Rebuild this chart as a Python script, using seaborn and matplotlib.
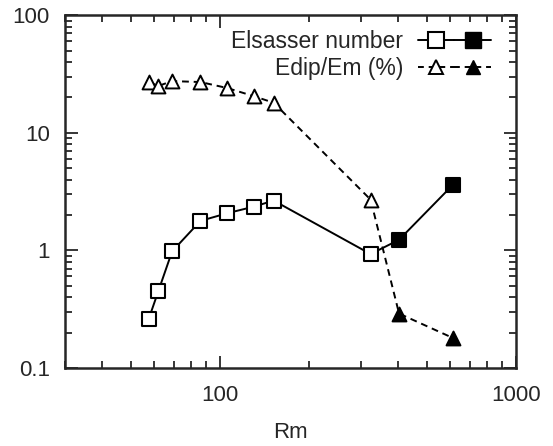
import matplotlib
matplotlib.use("Agg")
import matplotlib.pyplot as plt
import seaborn as sns
import numpy as np
from matplotlib.lines import Line2D
from matplotlib.legend_handler import HandlerTuple
from matplotlib.ticker import FuncFormatter, LogLocator

# Data
rm_open = [57.5, 62, 69, 86, 106, 130, 152, 323]
rm_filled = [403, 612]
elsasser_open = [0.26, 0.45, 0.98, 1.78, 2.07, 2.35, 2.65, 0.93]
elsasser_filled = [1.23, 3.6]
edip_open = [27, 25, 27.5, 27, 24, 20.5, 18, 2.7]
edip_filled = [0.29, 0.18]

sns.set_style("ticks")
plt.rcParams['font.family'] = ['Liberation Sans', 'DejaVu Sans']

fig, ax = plt.subplots(figsize=(5.53, 4.46), dpi=100)
fig.subplots_adjust(left=0.1175, right=0.933, top=0.966, bottom=0.175)

rm_all = rm_open + rm_filled

# Connecting lines
sns.lineplot(x=rm_all, y=elsasser_open + elsasser_filled, color='black',
             linewidth=1.4, estimator=None, ax=ax)
sns.lineplot(x=rm_all, y=edip_open + edip_filled, color='black',
             linewidth=1.4, dashes=False, estimator=None, ax=ax,
             linestyle=(0, (3.5, 2.5)))

# Markers
sns.scatterplot(x=rm_open, y=elsasser_open, marker='s', s=110,
                facecolor='white', edgecolor='black', linewidth=1.5, zorder=3, ax=ax)
sns.scatterplot(x=rm_filled, y=elsasser_filled, marker='s', s=110,
                color='black', edgecolor='black', linewidth=1.5, zorder=3, ax=ax)
sns.scatterplot(x=rm_open, y=edip_open, marker='^', s=100,
                facecolor='white', edgecolor='black', linewidth=1.4, zorder=3, ax=ax)
sns.scatterplot(x=rm_filled, y=edip_filled, marker='^', s=100,
                color='black', edgecolor='black', linewidth=1.4, zorder=3, ax=ax)

ax.set_xscale('log')
ax.set_yscale('log')
ax.set_xlim(30, 1000)
ax.set_ylim(0.1, 100)

fmt = FuncFormatter(lambda v, p: f'{v:g}')
ax.xaxis.set_major_formatter(fmt)
ax.yaxis.set_major_formatter(fmt)
ax.xaxis.set_minor_locator(LogLocator(base=10, subs=np.arange(2, 10)))
ax.yaxis.set_minor_locator(LogLocator(base=10, subs=np.arange(2, 10)))
ax.xaxis.set_minor_formatter(FuncFormatter(lambda v, p: ''))
ax.yaxis.set_minor_formatter(FuncFormatter(lambda v, p: ''))

ax.tick_params(which='both', direction='in', top=True, right=True,
               width=1.3, labelsize=16)
ax.tick_params(which='major', length=9)
ax.tick_params(axis='x', which='major', pad=12)
ax.tick_params(axis='y', which='major', pad=11)
ax.tick_params(which='minor', length=5)
for sp in ax.spines.values():
    sp.set_linewidth(1.8)
    sp.set_visible(True)

ax.set_xlabel('Rm', fontsize=16, labelpad=12)
ax.set_ylabel('')

# Legend: line with open marker then filled marker
h_e_open = Line2D([], [], color='black', lw=1.4, marker='s', ms=11,
                  mfc='white', mec='black', mew=1.5)
h_e_fill = Line2D([], [], color='black', lw=1.4, marker='s', ms=11,
                  mfc='black', mec='black')
h_d_open = Line2D([], [], color='black', lw=1.4, ls=(0, (3, 2.5)), marker='^',
                  ms=10, mfc='white', mec='black', mew=1.4)
h_d_fill = Line2D([], [], color='black', lw=1.4, ls=(0, (3, 2.5)), marker='^',
                  ms=10, mfc='black', mec='black')
ax.legend([(h_e_open, h_e_fill), (h_d_open, h_d_fill)],
          ['Elsasser number', 'Edip/Em (%)'],
          handler_map={tuple: HandlerTuple(ndivide=None, pad=0)},
          numpoints=1, markerfirst=False, frameon=False, loc='upper right',
          bbox_to_anchor=(0.945, 0.957), fontsize=16.5, handlelength=3.2,
          handletextpad=0.65, borderaxespad=0, borderpad=0, labelspacing=0.15)

fig.savefig('out.png', dpi=100)
